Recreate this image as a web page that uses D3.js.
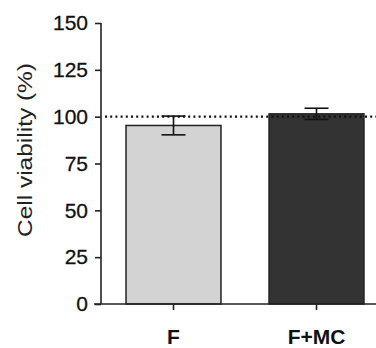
<!DOCTYPE html>
<html><head><meta charset="utf-8">
<script src="https://cdn.jsdelivr.net/npm/d3@7"></script>
<style>body{margin:0;background:#fff}svg{display:block}</style>
</head><body>
<script>
const categories = ["F", "F+MC"];
const values = [95.3, 101.5];
const errors = [5.0, 3.0];
const fills = ["#d3d3d3", "#333333"];
const yTicks = [0, 25, 50, 75, 100, 125, 150];
const refLine = 100;

const W = 376, H = 348;
const svg = d3.select("body").append("svg").attr("width", W).attr("height", H);
const y = d3.scaleLinear().domain([0, 150]).range([304, 23]);
const x = d3.scaleBand().domain(categories).range([102, 388]).paddingInner(0.336).paddingOuter(0.168);
const font = "Liberation Sans, Arial, sans-serif";

// bars
svg.selectAll("rect.bar").data(categories).enter().append("rect")
  .attr("x", d => x(d)).attr("width", x.bandwidth())
  .attr("y", (d, i) => y(values[i])).attr("height", (d, i) => y(0) - y(values[i]))
  .attr("fill", (d, i) => fills[i]).attr("stroke", "#222").attr("stroke-width", 1.5);

// reference line
svg.append("line").attr("x1", 105).attr("x2", W).attr("y1", y(refLine)).attr("y2", y(refLine))
  .attr("stroke", "#111").attr("stroke-width", 2.2).attr("stroke-dasharray", "2,3.2");

// error bars
const eg = svg.selectAll("g.err").data(categories).enter().append("g")
  .attr("stroke", "#111").attr("stroke-width", 1.6);
eg.append("line").attr("x1", d => x(d) + x.bandwidth()/2).attr("x2", d => x(d) + x.bandwidth()/2)
  .attr("y1", (d, i) => y(values[i] + errors[i])).attr("y2", (d, i) => y(values[i] - errors[i]));
eg.append("line").attr("x1", d => x(d) + x.bandwidth()/2 - 12).attr("x2", d => x(d) + x.bandwidth()/2 + 12)
  .attr("y1", (d, i) => y(values[i] + errors[i])).attr("y2", (d, i) => y(values[i] + errors[i]));
eg.append("line").attr("x1", d => x(d) + x.bandwidth()/2 - 12).attr("x2", d => x(d) + x.bandwidth()/2 + 12)
  .attr("y1", (d, i) => y(values[i] - errors[i])).attr("y2", (d, i) => y(values[i] - errors[i]));

// y axis
const ya = svg.append("g").attr("transform", "translate(101,0)")
  .call(d3.axisLeft(y).tickValues(yTicks).tickSize(6).tickPadding(7));
ya.select(".domain").attr("stroke", "#222").attr("stroke-width", 1.6).attr("d", "M0,23V304");
ya.selectAll(".tick line").attr("stroke", "#222").attr("stroke-width", 1.6);
ya.selectAll(".tick text").attr("font-family", font).attr("font-size", 21).attr("fill", "#111")
  .attr("stroke", "#111").attr("stroke-width", 0.3);

// x axis
const xa = svg.append("g").attr("transform", "translate(0,304)")
  .call(d3.axisBottom(x).tickSize(6).tickPadding(19));
xa.select(".domain").attr("stroke", "#222").attr("stroke-width", 1.6).attr("d", "M94,0H376");
xa.selectAll(".tick line").attr("stroke", "#222").attr("stroke-width", 1.6);
xa.selectAll(".tick text").attr("font-family", font).attr("font-size", 21).attr("font-weight", "bold").attr("fill", "#111");

// y label
svg.append("text").attr("transform", "translate(32,150) rotate(-90)")
  .attr("text-anchor", "middle").attr("font-family", font).attr("font-size", 21).attr("fill", "#222")
  .attr("textLength", 174).attr("lengthAdjust", "spacingAndGlyphs")
  .text("Cell viability (%)");
</script>
</body></html>
